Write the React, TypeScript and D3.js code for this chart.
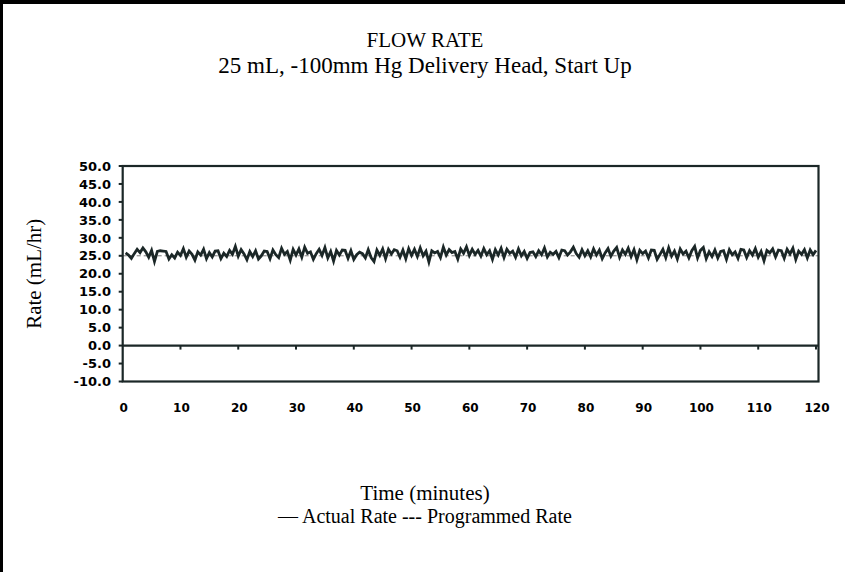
import React from "react";
import * as d3 from "d3";

const W = 845;
const H = 572;

const yTicks = [50, 45, 40, 35, 30, 25, 20, 15, 10, 5, 0, -5, -10];
const xTicks = [0, 10, 20, 30, 40, 50, 60, 70, 80, 90, 100, 110, 120];
const programmedRate = 25;
const titleText = "FLOW RATE";
const subtitleText = "25 mL, -100mm Hg Delivery Head, Start Up";
const xTitle = "Time (minutes)";
const yTitle = "Rate (mL/hr)";
const legendText = "\u2014 Actual Rate --- Programmed Rate";

// Actual rate sampled every 0.5 minute (t = 0.5 ... 120)
const actualRate = [
  25.8, 25.2, 24.3, 25.6, 26.8, 25.9, 27.2, 26.1, 24.6, 26.5, 23.4, 26.2, 26.4, 26.3, 26.2, 24.1, 25.3, 24.4, 26.0, 25.1,
  27.0, 24.6, 26.3, 25.4, 23.8, 26.1, 25.2, 26.8, 24.2, 25.9, 24.7, 26.3, 26.4, 24.2, 25.7, 24.8, 26.5, 25.4, 27.6, 24.9,
  26.7, 25.5, 23.9, 26.2, 24.8, 26.4, 24.1, 25.0, 26.3, 26.2, 24.2, 26.6, 25.3, 24.5, 27.1, 25.4, 26.2, 23.8, 26.8, 25.2,
  26.9, 24.6, 27.4, 25.7, 26.1, 24.0, 25.6, 26.8, 25.1, 27.3, 24.4, 26.2, 23.5, 26.5, 25.2, 26.6, 26.5, 24.3, 26.4, 24.0,
  25.3, 26.0, 25.6, 24.4, 26.7, 24.5, 23.4, 26.6, 25.1, 26.9, 24.2, 26.8, 25.5, 26.7, 26.4, 24.6, 26.6, 24.2, 27.0, 25.1,
  26.8, 24.8, 27.2, 25.0, 26.3, 23.3, 26.4, 25.8, 26.2, 24.5, 27.4, 25.2, 26.7, 25.9, 26.2, 24.1, 26.9, 25.7, 27.5, 25.1,
  26.8, 25.4, 26.5, 24.9, 27.0, 25.3, 26.4, 24.0, 26.7, 25.2, 27.1, 24.5, 26.8, 25.7, 26.3, 24.6, 26.9, 25.0, 26.2, 24.3,
  25.9, 26.1, 24.8, 26.4, 25.3, 27.2, 24.7, 26.0, 25.4, 26.2, 24.5, 26.6, 26.4, 25.2, 26.1, 27.4, 25.6, 24.6, 26.7, 25.0,
  26.4, 24.7, 26.9, 25.2, 26.6, 24.2, 25.8, 27.0, 24.9, 26.3, 27.3, 24.6, 26.6, 25.4, 27.1, 24.8, 26.7, 23.9, 26.5, 25.6,
  26.3, 24.4, 26.6, 26.5, 24.0, 25.4, 26.8, 24.5, 27.2, 24.9, 26.3, 24.1, 26.9, 25.5, 26.3, 24.4, 26.4, 27.6, 24.4, 26.5,
  27.3, 24.2, 26.1, 24.8, 26.6, 24.4, 26.2, 26.4, 24.0, 26.7, 25.3, 26.1, 24.3, 26.8, 26.6, 24.5, 26.4, 25.2, 27.0, 24.6,
  26.2, 23.6, 26.5, 25.8, 26.9, 24.7, 26.6, 26.4, 24.3, 26.8, 25.5, 27.1, 24.0, 26.3, 25.4, 26.7, 24.4, 26.6, 25.3, 26.5,
];

const sampleStep = 0.5;

export default function App() {
  const plotLeft = 122.7;
  const plotRight = 818.5;
  const plotTop = 166;
  const plotBottom = 381.5;

  const x = d3.scaleLinear().domain([0, 120]).range([122.7, 816]);
  const y = d3.scaleLinear().domain([-10, 50]).range([plotBottom, plotTop]);

  const data = actualRate.map((v, i) => ({ t: (i + 1) * sampleStep, v }));
  const line = d3
    .line<{ t: number; v: number }>()
    .x((d) => x(d.t))
    .y((d) => y(d.v));

  const ink = "#1b2727";
  const serif = "'Liberation Serif', 'Times New Roman', serif";
  const sans = "'DejaVu Sans', sans-serif";

  return (
    <svg
      width={W}
      height={H}
      style={{ position: "absolute", left: 0, top: 0, background: "#fff" }}
    >
      <rect x={0} y={0} width={W} height={H} fill="#fff" />
      {/* outer border (top & left) */}
      <line x1={0} x2={W} y1={2} y2={2} stroke="#000" strokeWidth={4} />
      <line x1={1.5} x2={1.5} y1={0} y2={H} stroke="#000" strokeWidth={3} />

      {/* titles */}
      <text x={425} y={47} textAnchor="middle" fontFamily={serif} fontSize={21} fill="#000">
        {titleText}
      </text>
      <text x={425} y={73} textAnchor="middle" fontFamily={serif} fontSize={23} fill="#000">
        {subtitleText}
      </text>

      {/* programmed rate dashed */}
      <line
        x1={x(0)}
        x2={plotRight}
        y1={y(programmedRate)}
        y2={y(programmedRate)}
        stroke="#555"
        strokeWidth={0.8}
        strokeDasharray="4,3"
      />

      {/* actual rate */}
      <path d={line(data) || ""} fill="none" stroke={ink} strokeWidth={2.8} strokeLinejoin="miter" />

      {/* frame */}
      <rect
        x={plotLeft}
        y={plotTop}
        width={plotRight - plotLeft}
        height={plotBottom - plotTop}
        fill="none"
        stroke={ink}
        strokeWidth={2.2}
      />
      {/* zero line */}
      <line x1={plotLeft} x2={plotRight} y1={y(0)} y2={y(0)} stroke={ink} strokeWidth={2.2} />

      {/* y ticks */}
      {yTicks.map((t) => (
        <g key={"y" + t}>
          <line x1={plotLeft - 4} x2={plotLeft} y1={y(t)} y2={y(t)} stroke={ink} strokeWidth={2} />
          <text
            x={111}
            y={y(t) + 4.7}
            textAnchor="end"
            fontFamily={sans}
            fontWeight="bold"
            fontSize={13}
            fill="#000"
          >
            {t.toFixed(1)}
          </text>
        </g>
      ))}

      {/* x ticks */}
      {xTicks.map((t) => (
        <g key={"x" + t}>
          {t > 0 && (
            <line x1={x(t)} x2={x(t)} y1={y(0)} y2={y(0) + 4} stroke={ink} strokeWidth={2} />
          )}
          <text
            x={x(t) + 1}
            y={412}
            textAnchor="middle"
            fontFamily={sans}
            fontWeight="bold"
            fontSize={12}
            fill="#000"
          >
            {t}
          </text>
        </g>
      ))}

      {/* axis titles */}
      <text
        transform={`translate(41,${(plotTop + plotBottom) / 2}) rotate(-90)`}
        textAnchor="middle"
        fontFamily={serif}
        fontSize={21}
        fill="#000"
      >
        {yTitle}
      </text>
      <text x={425} y={500} textAnchor="middle" fontFamily={serif} fontSize={21} fill="#000">
        {xTitle}
      </text>
      <text x={425} y={523} textAnchor="middle" fontFamily={serif} fontSize={20} fill="#000">
        {legendText}
      </text>
    </svg>
  );
}
